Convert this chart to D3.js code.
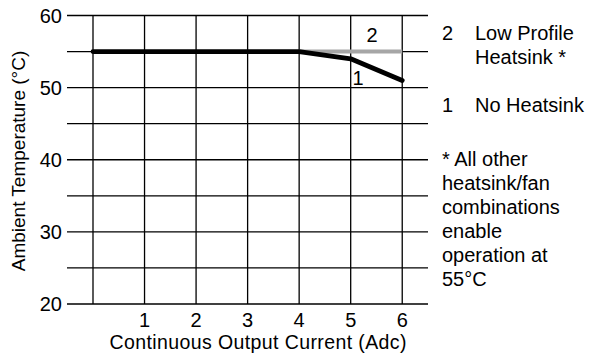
<!DOCTYPE html>
<html><head><meta charset="utf-8">
<script src="https://cdn.jsdelivr.net/npm/d3@7"></script>
<style>body{margin:0;background:#fff}svg{display:block}text{font-family:"Liberation Sans",Arial,sans-serif;fill:#000}</style>
</head><body><svg id="c" width="592" height="359"></svg>
<script>
// Derating data: ambient temperature (°C) vs continuous output current (Adc)
const xTicks = [1, 2, 3, 4, 5, 6];
const yTicks = [20, 30, 40, 50, 60];
const yGrid = [20, 25, 30, 35, 40, 45, 50, 55, 60];
const noHeatsink = [[0, 55], [4, 55], [5, 54], [6, 51]];
const lowProfile = [[4, 55], [6, 55]];
const legendLines = [
  {num: "2", lines: ["Low Profile", "Heatsink *"], y: 39.5},
  {num: "1", lines: ["No Heatsink"], y: 111.5}
];
const footnote = ["* All other", "heatsink/fan", "combinations", "enable", "operation at", "55°C"];

const FS = 20;
const svg = d3.select("#c");
const x = d3.scaleLinear().domain([0, 6.5]).range([93, 428]);
const y = d3.scaleLinear().domain([20, 60]).range([304, 15.5]);

const g = svg.append("g");
// horizontal grid lines extend left past the plot as tick marks
g.selectAll(".h").data(yGrid).join("line")
  .attr("x1", 67).attr("x2", x(6.5))
  .attr("y1", d => y(d)).attr("y2", d => y(d))
  .attr("stroke", "#000").attr("stroke-width", 1.3);
g.selectAll(".v").data([0].concat(xTicks)).join("line")
  .attr("x1", d => x(d)).attr("x2", d => x(d))
  .attr("y1", y(60)).attr("y2", y(20))
  .attr("stroke", "#000").attr("stroke-width", 1.3);

// tick labels
g.selectAll(".yl").data(yTicks).join("text")
  .attr("x", 62).attr("y", d => y(d) + 7)
  .attr("text-anchor", "end").attr("font-size", FS).text(d => d);
g.selectAll(".xl").data(xTicks).join("text")
  .attr("x", d => x(d)).attr("y", 326.5)
  .attr("text-anchor", "middle").attr("font-size", FS).text(d => d);

// axis titles
svg.append("text").attr("x", 258).attr("y", 348.5)
  .attr("text-anchor", "middle").attr("font-size", 19.5)
  .attr("textLength", 297).attr("lengthAdjust", "spacing")
  .text("Continuous Output Current (Adc)");
svg.append("text").attr("transform", "translate(25,161) rotate(-90)")
  .attr("text-anchor", "middle").attr("font-size", 19)
  .text("Ambient Temperature (°C)");

// curves
const line = d3.line().x(d => x(d[0])).y(d => y(d[1]));
g.append("path").datum(lowProfile).attr("d", line)
  .attr("fill", "none").attr("stroke", "#a6a6a6").attr("stroke-width", 4);
g.append("path").datum(noHeatsink).attr("d", line)
  .attr("fill", "none").attr("stroke", "#000").attr("stroke-width", 4.8)
  .attr("stroke-linecap", "round").attr("stroke-linejoin", "round");

// curve labels
g.append("text").attr("x", 372).attr("y", 41.5).attr("text-anchor", "middle")
  .attr("font-size", FS).text("2");
g.append("text").attr("x", 358).attr("y", 85).attr("text-anchor", "middle")
  .attr("font-size", FS).text("1");

// legend and note
const lg = svg.append("g");
legendLines.forEach(item => {
  lg.append("text").attr("x", 442).attr("y", item.y).attr("font-size", FS).text(item.num);
  item.lines.forEach((t, i) => {
    lg.append("text").attr("x", 475).attr("y", item.y + i * 24).attr("font-size", FS).text(t);
  });
});
footnote.forEach((t, i) => {
  lg.append("text").attr("x", 442).attr("y", 165.5 + i * 24).attr("font-size", FS).text(t);
});
</script></body></html>
